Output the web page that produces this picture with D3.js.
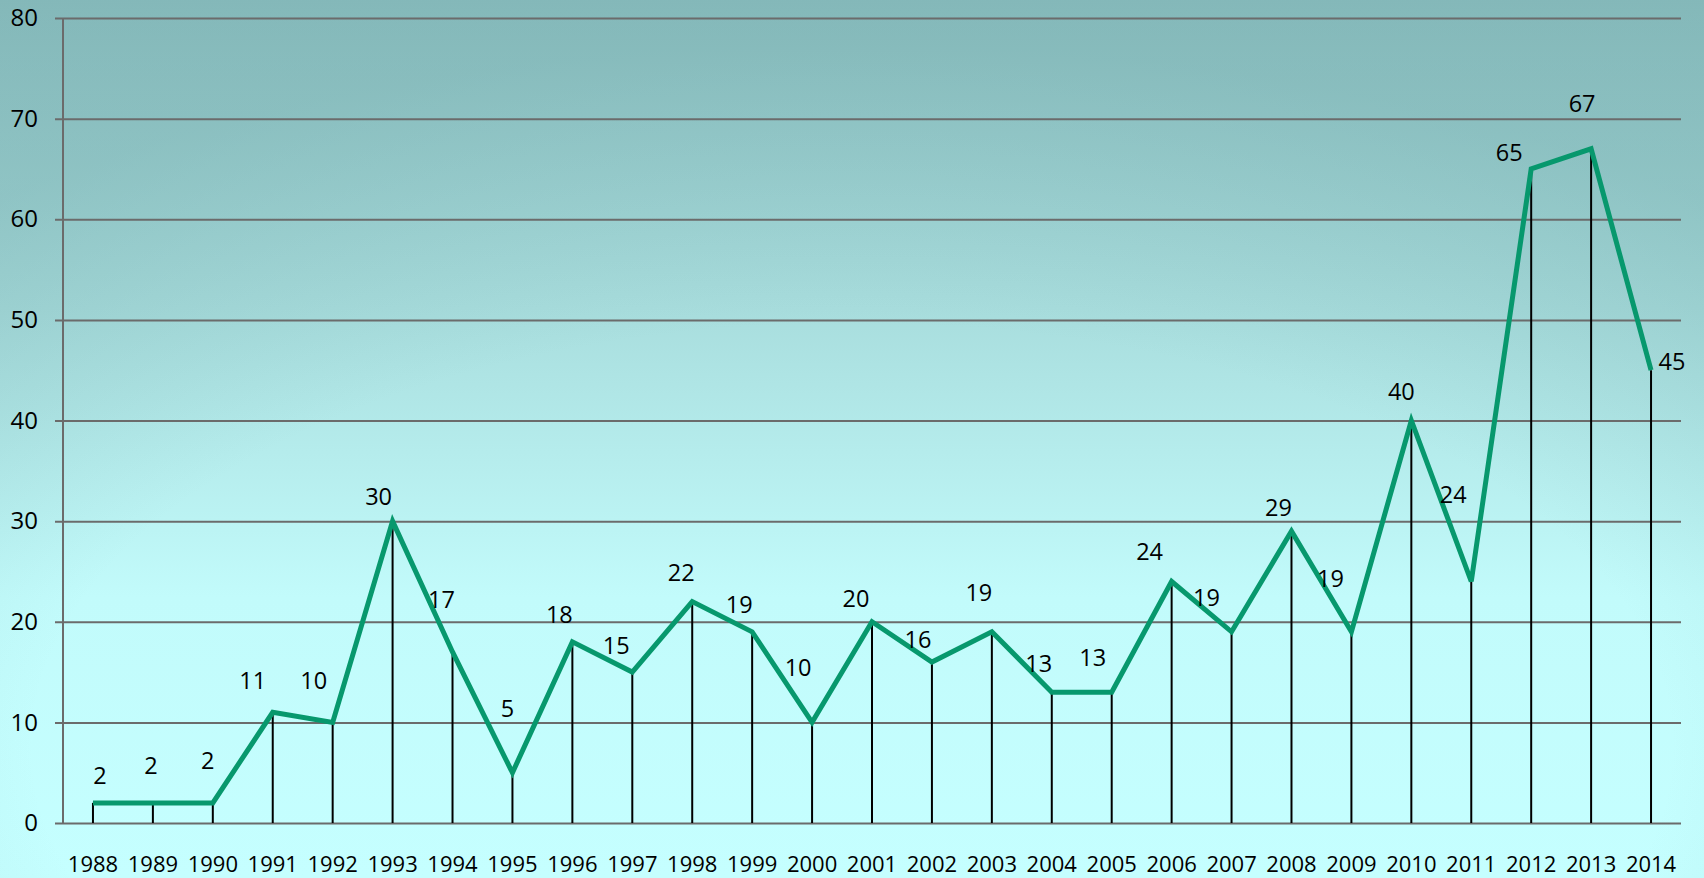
<!DOCTYPE html>
<html>
<head>
<meta charset="utf-8">
<script src="https://cdn.jsdelivr.net/npm/d3@7"></script>
<style>
html, body { margin: 0; padding: 0; overflow: hidden; }
svg { display: block; font-family: "Open Sans", sans-serif; }
</style>
</head>
<body>
<div id="chart"></div>
<script>
var years = ['1988','1989','1990','1991','1992','1993','1994','1995','1996','1997','1998','1999','2000','2001',
  '2002','2003','2004','2005','2006','2007','2008','2009','2010','2011','2012','2013','2014'];
var counts = [2, 2, 2, 11, 10, 30, 17, 5, 18, 15, 22, 19, 10, 20, 16, 19, 13, 13, 24, 19, 29, 19, 40, 24, 65, 67, 45];
var yTicks = [0, 10, 20, 30, 40, 50, 60, 70, 80];

// label nudges (dx, dy) relative to each point, as placed in the original
var labelNudge = [[7,-28],[-2,-38],[-5,-43],[-20,-32],[-19,-42],[-14,-25],[-11,-53],[-5,-65],[-13,-28],[-16,-27],
  [-11,-30],[-13,-28],[-14,-55],[-16,-24],[-14,-23],[-13,-40],[-13,-29],[-19,-35],[-22,-31],[-25,-35],
  [-13,-24],[-21,-54],[-10,-30],[-18,-88],[-22,-17],[-9,-46],[21,-9]];

var width = 1704, height = 878,
  margin = {top: 18, right: 23, bottom: 55, left: 63};

var svg = d3.select('#chart').append('svg')
  .attr('width', width)
  .attr('height', height);

var defs = svg.append('defs');
var lg = defs.append('linearGradient').attr('id', 'bg').attr('x1', 0).attr('y1', 0).attr('x2', 0).attr('y2', 1);
lg.append('stop').attr('offset', '0%').attr('stop-color', '#8fc3c4');
lg.append('stop').attr('offset', '35%').attr('stop-color', '#a8dddd');
lg.append('stop').attr('offset', '68%').attr('stop-color', '#c2fbfb');
lg.append('stop').attr('offset', '100%').attr('stop-color', '#c5ffff');
var rg = defs.append('radialGradient').attr('id', 'vig').attr('cx', '50%').attr('cy', '85%').attr('r', '80%');
rg.append('stop').attr('offset', '60%').attr('stop-color', '#6a9fa0').attr('stop-opacity', 0);
rg.append('stop').attr('offset', '100%').attr('stop-color', '#6a9fa0').attr('stop-opacity', 0.3);

svg.append('rect').attr('width', width).attr('height', height).attr('fill', 'url(#bg)');
svg.append('rect').attr('width', width).attr('height', height).attr('fill', 'url(#vig)');

var x = d3.scaleBand().domain(years).range([margin.left, width - margin.right]).padding(0);
var y = d3.scaleLinear().domain([0, 80]).range([height - margin.bottom, margin.top]);
var cx = d => x(d) + x.bandwidth() / 2;

// gridlines + y axis
var yAxis = d3.axisLeft(y).tickValues(yTicks)
  .tickSize(-(width - margin.left - margin.right + 8)).tickPadding(17);
var gy = svg.append('g')
  .attr('transform', 'translate(' + (margin.left - 8) + ',0)')
  .call(yAxis);
gy.select('.domain').remove();
gy.selectAll('.tick line').attr('stroke', '#6b6b6b').attr('stroke-width', 2);
gy.selectAll('.tick text').attr('font-size', '24px').attr('fill', '#000').attr('font-family', '"Open Sans", sans-serif');

svg.append('line')
  .attr('x1', margin.left).attr('x2', margin.left)
  .attr('y1', y(80)).attr('y2', y(0))
  .attr('stroke', '#6b6b6b').attr('stroke-width', 2);

// x axis labels
var xAxis = d3.axisBottom(x).tickSize(0).tickPadding(33);
var gx = svg.append('g')
  .attr('transform', 'translate(0,' + y(0) + ')')
  .call(xAxis);
gx.select('.domain').remove();
gx.selectAll('.tick text').attr('font-size', '22px').attr('fill', '#000').attr('font-family', '"Open Sans", sans-serif');

// drop lines
svg.append('g').selectAll('line')
  .data(counts)
  .enter().append('line')
  .attr('x1', (d, i) => cx(years[i])).attr('x2', (d, i) => cx(years[i]))
  .attr('y1', d => y(d)).attr('y2', y(0))
  .attr('stroke', '#000').attr('stroke-width', 2);

// series line
var line = d3.line()
  .x((d, i) => cx(years[i]))
  .y(d => y(d));
svg.append('path')
  .datum(counts)
  .attr('d', line)
  .attr('fill', 'none')
  .attr('stroke', '#07986d')
  .attr('stroke-width', 5)
  .attr('stroke-linejoin', 'miter');

// data labels
svg.append('g').selectAll('text')
  .data(counts)
  .enter().append('text')
  .attr('x', (d, i) => cx(years[i]) + labelNudge[i][0])
  .attr('y', (d, i) => y(d) + labelNudge[i][1])
  .attr('text-anchor', 'middle')
  .attr('dominant-baseline', 'central')
  .attr('font-size', '23.5px')
  .attr('fill', '#000')
  .text(d => d);
</script>
</body>
</html>
